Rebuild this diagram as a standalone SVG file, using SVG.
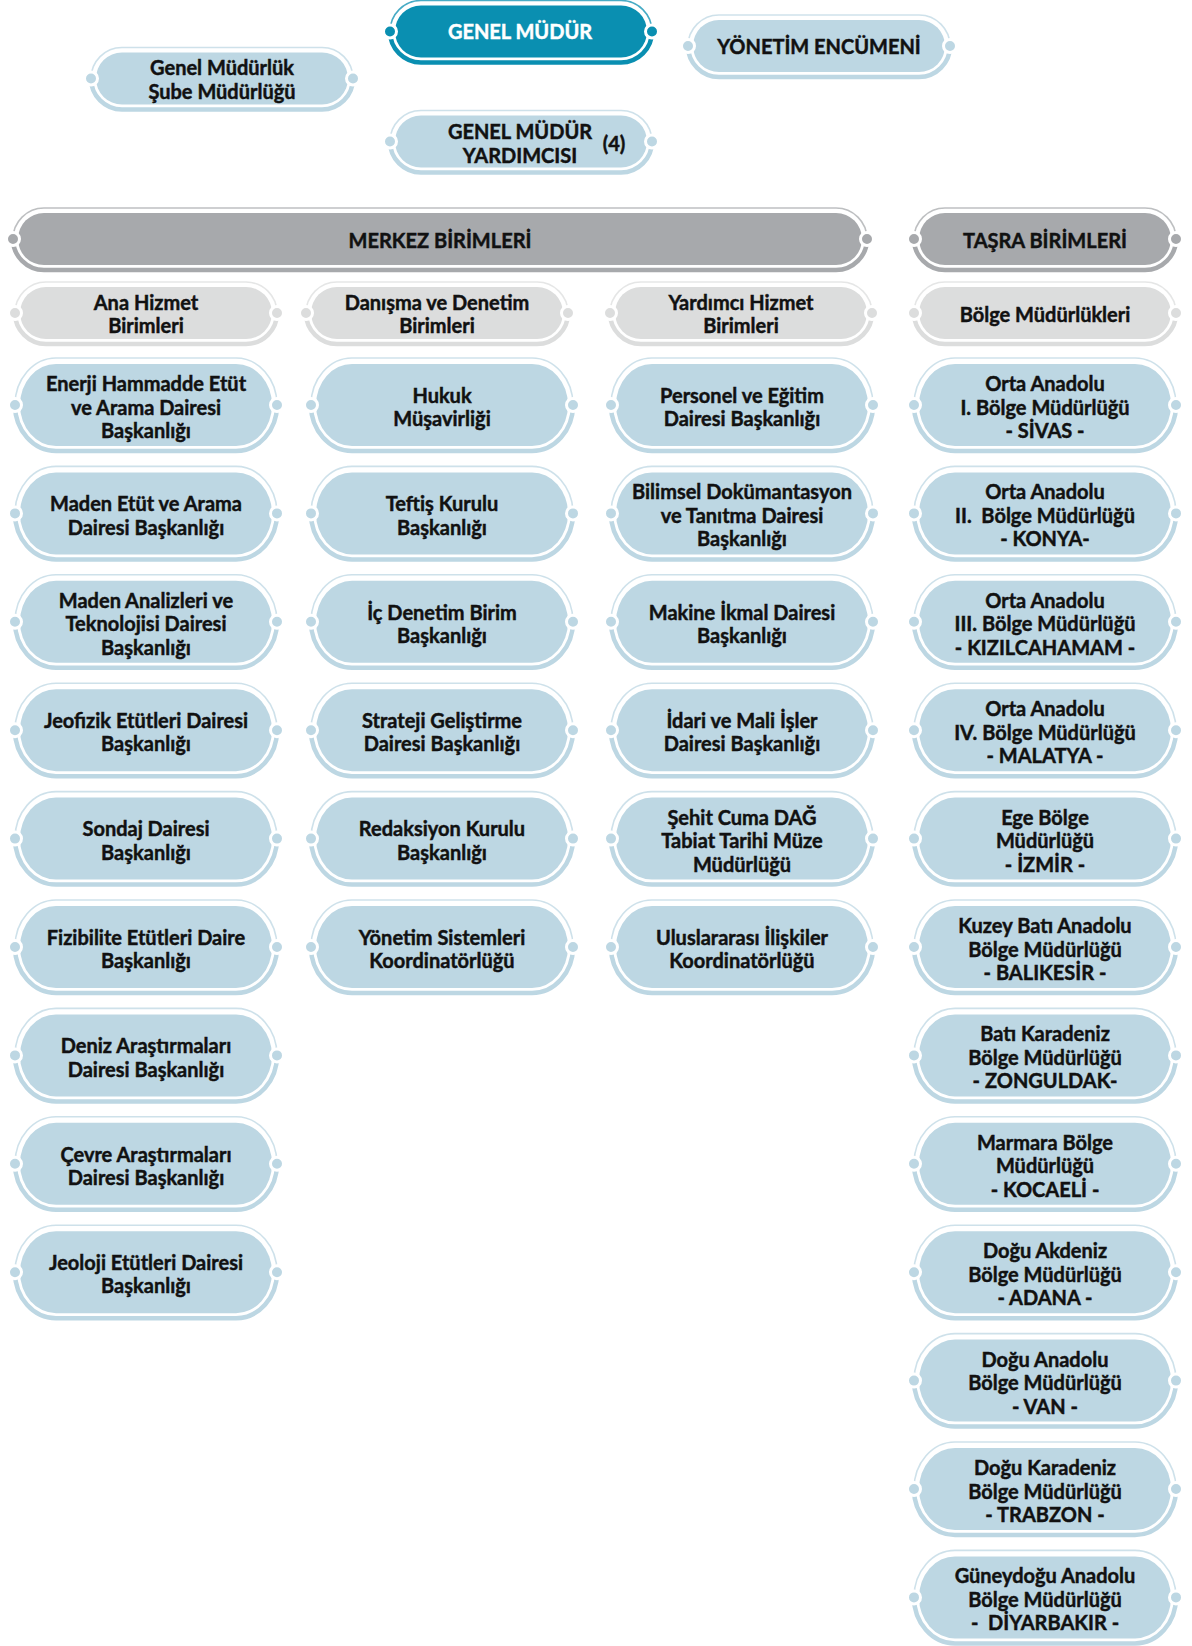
<svg xmlns="http://www.w3.org/2000/svg" width="1192" height="1646" viewBox="0 0 1192 1646">
<style>
.t{font-family:Lato,"Open Sans","Liberation Sans",sans-serif;font-weight:700;font-size:20px;fill:#111;stroke:#111;stroke-width:0.45px;text-anchor:middle}
.w{fill:#fff;stroke:#fff}
.blue{color:#bdd7e3}
.gray{color:#a7a9ac}
.lgray{color:#dcdddd}
.teal{color:#0a8fb1}
.pre{white-space:pre}
</style>
<defs>
<g id="big">
<rect x="5" y="-41" width="252" height="82" rx="36" ry="41" fill="currentColor"/>
<path d="M0,0 A41,47 0 0 1 41,-47 H221 A41,47 0 0 1 262,0" fill="none" stroke="currentColor" stroke-opacity=".75" stroke-width="1.6"/>
<path d="M0,0 A41,46 0 0 0 41,46 H221 A41,46 0 0 0 262,0" fill="none" stroke="currentColor" stroke-width="4.5"/>
<circle cx="0" cy="0" r="6.5" fill="currentColor" stroke="#fff" stroke-width="3"/>
<circle cx="262" cy="0" r="6.5" fill="currentColor" stroke="#fff" stroke-width="3"/>
</g>
<g id="small">
<rect x="5" y="-26" width="252" height="52" rx="26" ry="26" fill="currentColor"/>
<path d="M0,0 A31,31 0 0 1 31,-31 H231 A31,31 0 0 1 262,0" fill="none" stroke="currentColor" stroke-opacity=".75" stroke-width="1.6"/>
<path d="M0,0 A31,31 0 0 0 31,31 H231 A31,31 0 0 0 262,0" fill="none" stroke="currentColor" stroke-width="4.5"/>
<circle cx="0" cy="0" r="6.5" fill="currentColor" stroke="#fff" stroke-width="3"/>
<circle cx="262" cy="0" r="6.5" fill="currentColor" stroke="#fff" stroke-width="3"/>
</g>
<g id="wide">
<rect x="5" y="-26" width="844" height="52" rx="26" ry="26" fill="currentColor"/>
<path d="M0,0 A31,31 0 0 1 31,-31 H823 A31,31 0 0 1 854,0" fill="none" stroke="currentColor" stroke-opacity=".75" stroke-width="1.6"/>
<path d="M0,0 A31,31 0 0 0 31,31 H823 A31,31 0 0 0 854,0" fill="none" stroke="currentColor" stroke-width="4.5"/>
<circle cx="0" cy="0" r="6.5" fill="currentColor" stroke="#fff" stroke-width="3"/>
<circle cx="854" cy="0" r="6.5" fill="currentColor" stroke="#fff" stroke-width="3"/>
</g>
</defs>
<g id="connectors"/>

<g id="n-genel-mudur"><use href="#small" x="390" y="31.5" class="teal"/><text class="t w" x="520" y="38.5">GENEL MÜDÜR</text></g>
<g id="n-sube"><use href="#small" x="91" y="78.5" class="blue"/><text class="t"><tspan x="222" y="74.5">Genel Müdürlük</tspan><tspan x="222" y="98.5">Şube Müdürlüğü</tspan></text></g>
<g id="n-encumen"><use href="#small" x="688" y="46" class="blue"/><text class="t" x="819" y="54">YÖNETİM ENCÜMENİ</text></g>
<g id="n-gmy"><use href="#small" x="390" y="141.5" class="blue"/><text class="t"><tspan x="520" y="139">GENEL MÜDÜR</tspan><tspan x="520" y="163">YARDIMCISI</tspan></text><text class="t" x="614" y="151">(4)</text></g>

<g id="n-merkez"><use href="#wide" x="13" y="239" class="gray"/><text class="t" x="440" y="248">MERKEZ BİRİMLERİ</text></g>
<g id="n-tasra"><use href="#small" x="914" y="239" class="gray"/><text class="t" x="1045" y="248">TAŞRA BİRİMLERİ</text></g>

<g id="n-ana"><use href="#small" x="15" y="313" class="lgray"/><text class="t"><tspan x="146" y="309.5">Ana Hizmet</tspan><tspan x="146" y="333">Birimleri</tspan></text></g>
<g id="n-danisma"><use href="#small" x="306" y="313" class="lgray"/><text class="t"><tspan x="437" y="309.5">Danışma ve Denetim</tspan><tspan x="437" y="333">Birimleri</tspan></text></g>
<g id="n-yardimci"><use href="#small" x="610" y="313" class="lgray"/><text class="t"><tspan x="741" y="309.5">Yardımcı Hizmet</tspan><tspan x="741" y="333">Birimleri</tspan></text></g>
<g id="n-bolge"><use href="#small" x="914" y="313" class="lgray"/><text class="t" x="1045" y="322">Bölge Müdürlükleri</text></g>

<g id="n-c1-1"><use href="#big" x="15" y="405" class="blue"/><text class="t"><tspan x="146" y="391">Enerji Hammadde Etüt</tspan><tspan x="146" y="414.5">ve Arama Dairesi</tspan><tspan x="146" y="438">Başkanlığı</tspan></text></g>
<g id="n-c1-2"><use href="#big" x="15" y="513.4" class="blue"/><text class="t"><tspan x="146" y="511.15">Maden Etüt ve Arama</tspan><tspan x="146" y="534.65">Dairesi Başkanlığı</tspan></text></g>
<g id="n-c1-3"><use href="#big" x="15" y="621.8" class="blue"/><text class="t"><tspan x="146" y="607.8">Maden Analizleri ve</tspan><tspan x="146" y="631.3">Teknolojisi Dairesi</tspan><tspan x="146" y="654.8">Başkanlığı</tspan></text></g>
<g id="n-c1-4"><use href="#big" x="15" y="730.2" class="blue"/><text class="t"><tspan x="146" y="727.95">Jeofizik Etütleri Dairesi</tspan><tspan x="146" y="751.45">Başkanlığı</tspan></text></g>
<g id="n-c1-5"><use href="#big" x="15" y="838.6" class="blue"/><text class="t"><tspan x="146" y="836.35">Sondaj Dairesi</tspan><tspan x="146" y="859.85">Başkanlığı</tspan></text></g>
<g id="n-c1-6"><use href="#big" x="15" y="947" class="blue"/><text class="t"><tspan x="146" y="944.75">Fizibilite Etütleri Daire</tspan><tspan x="146" y="968.25">Başkanlığı</tspan></text></g>
<g id="n-c1-7"><use href="#big" x="15" y="1055.4" class="blue"/><text class="t"><tspan x="146" y="1053.15">Deniz Araştırmaları</tspan><tspan x="146" y="1076.65">Dairesi Başkanlığı</tspan></text></g>
<g id="n-c1-8"><use href="#big" x="15" y="1163.8" class="blue"/><text class="t"><tspan x="146" y="1161.55">Çevre Araştırmaları</tspan><tspan x="146" y="1185.05">Dairesi Başkanlığı</tspan></text></g>
<g id="n-c1-9"><use href="#big" x="15" y="1272.2" class="blue"/><text class="t"><tspan x="146" y="1269.95">Jeoloji Etütleri Dairesi</tspan><tspan x="146" y="1293.45">Başkanlığı</tspan></text></g>

<g id="n-c2-1"><use href="#big" x="311" y="405" class="blue"/><text class="t"><tspan x="442" y="402.75">Hukuk</tspan><tspan x="442" y="426.25">Müşavirliği</tspan></text></g>
<g id="n-c2-2"><use href="#big" x="311" y="513.4" class="blue"/><text class="t"><tspan x="442" y="511.15">Teftiş Kurulu</tspan><tspan x="442" y="534.65">Başkanlığı</tspan></text></g>
<g id="n-c2-3"><use href="#big" x="311" y="621.8" class="blue"/><text class="t"><tspan x="442" y="619.55">İç Denetim Birim</tspan><tspan x="442" y="643.05">Başkanlığı</tspan></text></g>
<g id="n-c2-4"><use href="#big" x="311" y="730.2" class="blue"/><text class="t"><tspan x="442" y="727.95">Strateji Geliştirme</tspan><tspan x="442" y="751.45">Dairesi Başkanlığı</tspan></text></g>
<g id="n-c2-5"><use href="#big" x="311" y="838.6" class="blue"/><text class="t"><tspan x="442" y="836.35">Redaksiyon Kurulu</tspan><tspan x="442" y="859.85">Başkanlığı</tspan></text></g>
<g id="n-c2-6"><use href="#big" x="311" y="947" class="blue"/><text class="t"><tspan x="442" y="944.75">Yönetim Sistemleri</tspan><tspan x="442" y="968.25">Koordinatörlüğü</tspan></text></g>

<g id="n-c3-1"><use href="#big" x="611" y="405" class="blue"/><text class="t"><tspan x="742" y="402.75">Personel ve Eğitim</tspan><tspan x="742" y="426.25">Dairesi Başkanlığı</tspan></text></g>
<g id="n-c3-2"><use href="#big" x="611" y="513.4" class="blue"/><text class="t"><tspan x="742" y="499.4">Bilimsel Dokümantasyon</tspan><tspan x="742" y="522.9">ve Tanıtma Dairesi</tspan><tspan x="742" y="546.4">Başkanlığı</tspan></text></g>
<g id="n-c3-3"><use href="#big" x="611" y="621.8" class="blue"/><text class="t"><tspan x="742" y="619.55">Makine İkmal Dairesi</tspan><tspan x="742" y="643.05">Başkanlığı</tspan></text></g>
<g id="n-c3-4"><use href="#big" x="611" y="730.2" class="blue"/><text class="t"><tspan x="742" y="727.95">İdari ve Mali İşler</tspan><tspan x="742" y="751.45">Dairesi Başkanlığı</tspan></text></g>
<g id="n-c3-5"><use href="#big" x="611" y="838.6" class="blue"/><text class="t"><tspan x="742" y="824.6">Şehit Cuma DAĞ</tspan><tspan x="742" y="848.1">Tabiat Tarihi Müze</tspan><tspan x="742" y="871.6">Müdürlüğü</tspan></text></g>
<g id="n-c3-6"><use href="#big" x="611" y="947" class="blue"/><text class="t"><tspan x="742" y="944.75">Uluslararası İlişkiler</tspan><tspan x="742" y="968.25">Koordinatörlüğü</tspan></text></g>

<g id="n-c4-1"><use href="#big" x="914" y="405" class="blue"/><text class="t"><tspan x="1045" y="391">Orta Anadolu</tspan><tspan x="1045" y="414.5">I. Bölge Müdürlüğü</tspan><tspan x="1045" y="438">- SİVAS -</tspan></text></g>
<g id="n-c4-2"><use href="#big" x="914" y="513.4" class="blue"/><text class="t pre"><tspan x="1045" y="499.4">Orta Anadolu</tspan><tspan x="1045" y="522.9">II.  Bölge Müdürlüğü</tspan><tspan x="1045" y="546.4">- KONYA-</tspan></text></g>
<g id="n-c4-3"><use href="#big" x="914" y="621.8" class="blue"/><text class="t"><tspan x="1045" y="607.8">Orta Anadolu</tspan><tspan x="1045" y="631.3">III. Bölge Müdürlüğü</tspan><tspan x="1045" y="654.8">- KIZILCAHAMAM -</tspan></text></g>
<g id="n-c4-4"><use href="#big" x="914" y="730.2" class="blue"/><text class="t"><tspan x="1045" y="716.2">Orta Anadolu</tspan><tspan x="1045" y="739.7">IV. Bölge Müdürlüğü</tspan><tspan x="1045" y="763.2">- MALATYA -</tspan></text></g>
<g id="n-c4-5"><use href="#big" x="914" y="838.6" class="blue"/><text class="t"><tspan x="1045" y="824.6">Ege Bölge</tspan><tspan x="1045" y="848.1">Müdürlüğü</tspan><tspan x="1045" y="871.6">- İZMİR -</tspan></text></g>
<g id="n-c4-6"><use href="#big" x="914" y="947" class="blue"/><text class="t"><tspan x="1045" y="933">Kuzey Batı Anadolu</tspan><tspan x="1045" y="956.5">Bölge Müdürlüğü</tspan><tspan x="1045" y="980">- BALIKESİR -</tspan></text></g>
<g id="n-c4-7"><use href="#big" x="914" y="1055.4" class="blue"/><text class="t"><tspan x="1045" y="1041.4">Batı Karadeniz</tspan><tspan x="1045" y="1064.9">Bölge Müdürlüğü</tspan><tspan x="1045" y="1088.4">- ZONGULDAK-</tspan></text></g>
<g id="n-c4-8"><use href="#big" x="914" y="1163.8" class="blue"/><text class="t"><tspan x="1045" y="1149.8">Marmara Bölge</tspan><tspan x="1045" y="1173.3">Müdürlüğü</tspan><tspan x="1045" y="1196.8">- KOCAELİ -</tspan></text></g>
<g id="n-c4-9"><use href="#big" x="914" y="1272.2" class="blue"/><text class="t"><tspan x="1045" y="1258.2">Doğu Akdeniz</tspan><tspan x="1045" y="1281.7">Bölge Müdürlüğü</tspan><tspan x="1045" y="1305.2">- ADANA -</tspan></text></g>
<g id="n-c4-10"><use href="#big" x="914" y="1380.6" class="blue"/><text class="t"><tspan x="1045" y="1366.6">Doğu Anadolu</tspan><tspan x="1045" y="1390.1">Bölge Müdürlüğü</tspan><tspan x="1045" y="1413.6">- VAN -</tspan></text></g>
<g id="n-c4-11"><use href="#big" x="914" y="1489" class="blue"/><text class="t"><tspan x="1045" y="1475">Doğu Karadeniz</tspan><tspan x="1045" y="1498.5">Bölge Müdürlüğü</tspan><tspan x="1045" y="1522">- TRABZON -</tspan></text></g>
<g id="n-c4-12"><use href="#big" x="914" y="1597.4" class="blue"/><text class="t pre"><tspan x="1045" y="1583.4">Güneydoğu Anadolu</tspan><tspan x="1045" y="1606.9">Bölge Müdürlüğü</tspan><tspan x="1045" y="1630.4">-  DİYARBAKIR -</tspan></text></g>
</svg>
